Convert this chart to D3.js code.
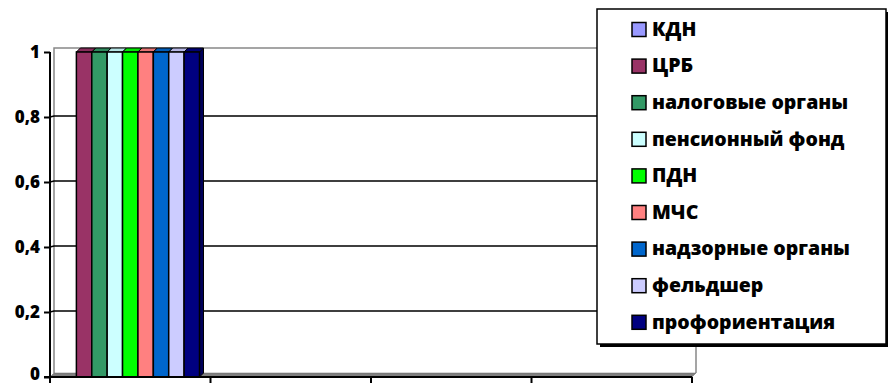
<!DOCTYPE html>
<html>
<head>
<meta charset="utf-8">
<script src="https://cdn.jsdelivr.net/npm/d3@7"></script>
<style>
  body { margin: 0; background: #fff; }
  text { font-family: "Open Sans", sans-serif; font-weight: 800; fill: #000; }
</style>
</head>
<body>
<div class="container"></div>
<script>
const w = 888;
const h = 386;

// data
const categories = ["", "", "", ""];
const seriesNames = ["КДН", "ЦРБ", "налоговые органы", "пенсионный фонд", "ПДН", "МЧС", "надзорные органы", "фельдшер", "профориентация"];
const seriesColors = ["#9999ff", "#993366", "#339966", "#ccffff", "#00ff00", "#ff8080", "#0066cc", "#ccccff", "#000080"];
const kdn = [0, 0, 0, 0];
const crb = [1, 0, 0, 0];
const nalog = [1, 0, 0, 0];
const pension = [1, 0, 0, 0];
const pdn = [1, 0, 0, 0];
const mchs = [1, 0, 0, 0];
const nadzor = [1, 0, 0, 0];
const feldsher = [1, 0, 0, 0];
const proforient = [1, 0, 0, 0];
const yTicks = [0, 0.2, 0.4, 0.6, 0.8, 1];

const seriesValues = [kdn, crb, nalog, pension, pdn, mchs, nadzor, feldsher, proforient];

const margin = { top: 52, left: 50, right: 196, bottom: 9 };
const depth = 4;

const svg = d3.select('.container').append('svg')
    .attr('width', w)
    .attr('height', h);

const x = d3.scaleBand()
    .domain(d3.range(categories.length))
    .range([margin.left, w - margin.right])
    .paddingInner(0)
    .paddingOuter(0);

const inner = d3.scaleBand()
    .domain(d3.range(seriesNames.length))
    .range([11, x.bandwidth() - 11]);

const y = d3.scaleLinear()
    .domain([0, 1])
    .range([h - margin.bottom, margin.top]);

const x0 = margin.left, x1 = w - margin.right;
const chart = svg.append('g');

// back wall + floor (3d box)
chart.append('path')
    .attr('d', `M${x0 + depth},${y(0) - depth}V${y(1) - depth}H${x1 + depth}V${y(0) - depth}`)
    .attr('fill', 'none')
    .attr('stroke', '#888')
    .attr('stroke-width', 1.5);
chart.append('path')
    .attr('d', `M${x0},${y(0)}L${x0 + depth},${y(0) - depth}H${x1 + depth}L${x1},${y(0)}Z`)
    .attr('fill', '#808080')
    .attr('stroke', '#666')
    .attr('stroke-width', 0.5);

// gridlines
chart.selectAll('.grid')
    .data(yTicks.filter(d => d > 0 && d < 1))
    .enter()
    .append('path')
      .attr('class', 'grid')
      .attr('d', d => `M${x0},${y(d)}L${x0 + depth},${y(d) - 1}H${x1 + depth}`)
      .attr('fill', 'none')
      .attr('stroke', '#000')
      .attr('stroke-width', 1.5);

// bars
const bars = [];
seriesValues.forEach((vals, si) => {
  vals.forEach((v, ci) => {
    if (v > 0) bars.push({ si, ci, v });
  });
});

const barG = chart.selectAll('.bar')
    .data(bars)
    .enter()
    .append('g')
      .attr('class', 'bar');

barG.append('path')
    .attr('d', d => {
      const bx = x(d.ci) + inner(d.si) + inner.bandwidth(), by = y(d.v);
      return `M${bx},${by}L${bx + depth},${by - depth}V${y(0) - depth}L${bx},${y(0)}Z`;
    })
    .attr('fill', d => d3.color(seriesColors[d.si]).darker(1))
    .attr('stroke', '#000')
    .attr('stroke-width', 1);

barG.append('path')
    .attr('d', d => {
      const bx = x(d.ci) + inner(d.si), by = y(d.v), bw = inner.bandwidth();
      return `M${bx},${by}L${bx + depth},${by - depth}H${bx + bw + depth}L${bx + bw},${by}Z`;
    })
    .attr('fill', d => d3.color(seriesColors[d.si]).darker(0.3))
    .attr('stroke', '#000')
    .attr('stroke-width', 1);

barG.append('rect')
    .attr('x', d => x(d.ci) + inner(d.si))
    .attr('y', d => y(d.v))
    .attr('width', inner.bandwidth())
    .attr('height', d => y(0) - y(d.v))
    .attr('fill', d => seriesColors[d.si])
    .attr('stroke', '#000')
    .attr('stroke-width', 1.5);

// axes
const yAxis = d3.axisLeft(y).tickValues(yTicks).tickSize(6).tickPadding(4)
    .tickFormat(d => d3.format('.1f')(d).replace('.', ',').replace(',0', '').replace(/^1,0$/, '1'));
chart.append('g')
    .attr('transform', `translate(${x0}, 0)`)
    .call(yAxis)
    .call(g => g.select('.domain').attr('stroke-width', 2).attr('d', `M${-6},${y(0)}H0V${y(1)}`))
    .call(g => g.selectAll('.tick line').attr('stroke-width', 2))
    .call(g => g.selectAll('.tick text').style('font-size', '17px').attr('dy', d => d === 0 ? '0.15em' : '0.3em'));

const xAxis = d3.axisBottom(x).tickValues([]).tickSize(0);
chart.append('g')
    .attr('transform', `translate(0, ${y(0)})`)
    .call(xAxis)
    .call(g => g.select('.domain').attr('stroke-width', 2).attr('d', `M${x0},0H${x1}`));

chart.append('g')
    .selectAll('line')
    .data(d3.range(categories.length + 1))
    .enter()
    .append('line')
      .attr('x1', d => d < categories.length ? x(d) : x1)
      .attr('x2', d => d < categories.length ? x(d) : x1)
      .attr('y1', y(0))
      .attr('y2', y(0) + 6)
      .attr('stroke', '#000')
      .attr('stroke-width', 2);

// legend
const lg = svg.append('g').attr('transform', 'translate(597, 9)');
const lw = 289, lh = 335;
lg.append('rect')
    .attr('x', 3).attr('y', 3)
    .attr('width', lw).attr('height', lh)
    .attr('fill', '#000');
lg.append('rect')
    .attr('width', lw).attr('height', lh)
    .attr('fill', '#fff')
    .attr('stroke', '#000')
    .attr('stroke-width', 1.5);

const item = lg.selectAll('.legend')
    .data(seriesNames)
    .enter()
    .append('g')
      .attr('class', 'legend')
      .attr('transform', (d, i) => `translate(35, ${20 + i * 36.6})`);

item.append('rect')
    .attr('x', 0).attr('y', -6.5)
    .attr('width', 14).attr('height', 14)
    .attr('fill', (d, i) => seriesColors[i])
    .attr('stroke', '#000')
    .attr('stroke-width', 1.5);

item.append('text')
    .attr('x', 20)
    .attr('dy', '0.35em')
    .style('font-size', '19.5px')
    .text(d => d);
</script>
</body>
</html>
